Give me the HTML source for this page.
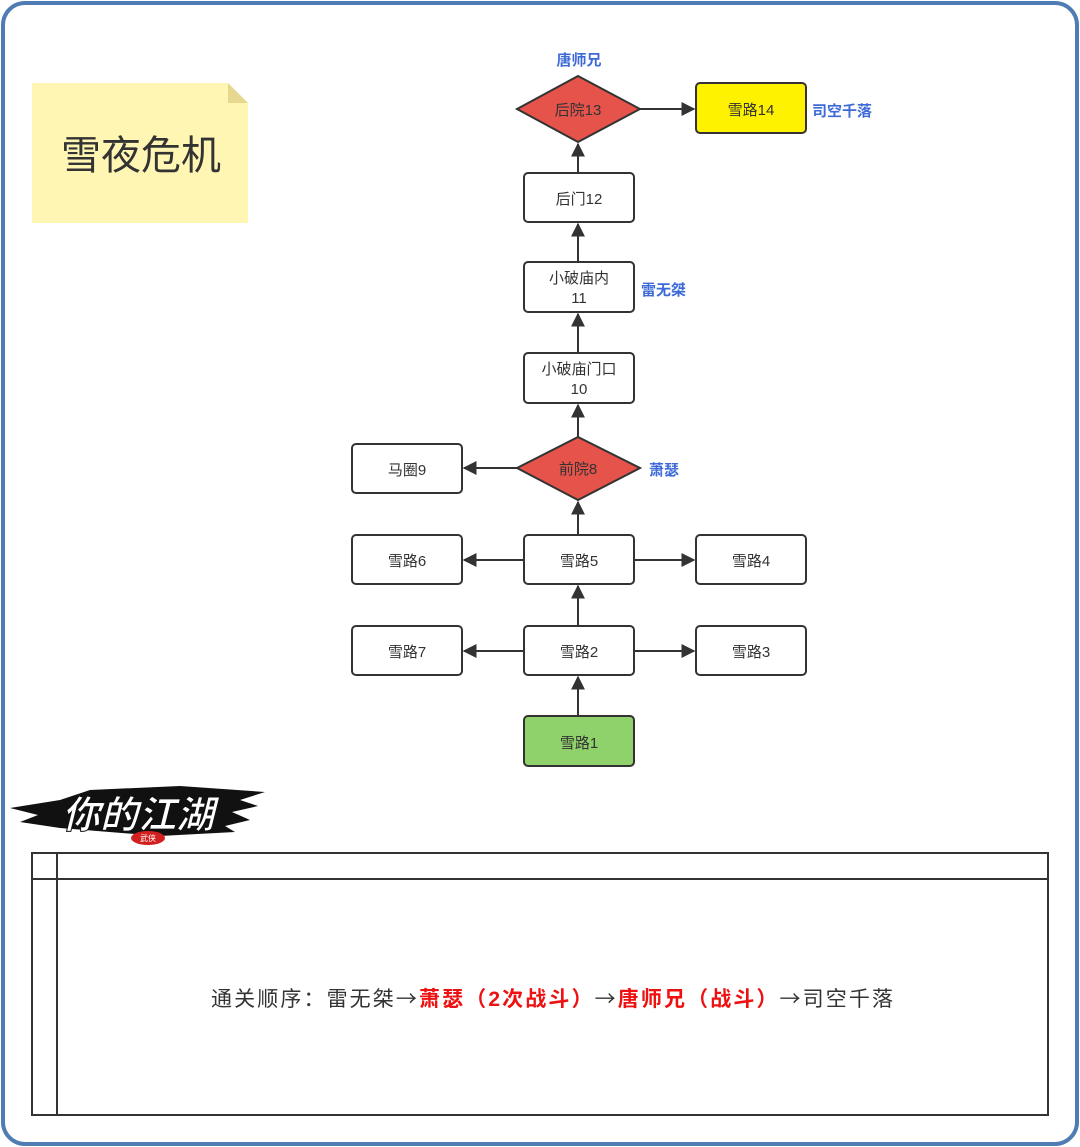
<!DOCTYPE html>
<html><head><meta charset="utf-8"><style>
html,body{margin:0;padding:0;background:#fff;}
svg{display:block;}
text{font-family:"Liberation Sans","Noto Sans CJK SC",sans-serif;}
</style></head><body>
<svg width="1080" height="1147" viewBox="0 0 1080 1147" xmlns="http://www.w3.org/2000/svg">
<defs>
<marker id="b" viewBox="0 0 10 10" markerWidth="14" markerHeight="14" refX="9" refY="5" orient="auto" markerUnits="userSpaceOnUse"><path d="M0,0 L10,5 L0,10 Z" fill="#333"/></marker></defs>
<rect x="3" y="3" width="1074" height="1141" rx="22" fill="#fff" stroke="#4f7db3" stroke-width="4"/>
<path d="M32,83 H228 L248,103 V223 H32 Z" fill="#fff6b3"/>
<path d="M228,83 V103 H248 Z" fill="#e6d98f"/>
<text x="141" y="169" font-size="40" text-anchor="middle" fill="#333">雪夜危机</text>
<g stroke="#333" stroke-width="2" fill="none" marker-end="url(#b)">
<line x1="640" y1="109" x2="694" y2="109"/>
<line x1="578" y1="173" x2="578" y2="144"/>
<line x1="578" y1="262" x2="578" y2="224"/>
<line x1="578" y1="353" x2="578" y2="314"/>
<line x1="578" y1="437" x2="578" y2="405"/>
<line x1="517" y1="468" x2="464" y2="468"/>
<line x1="578" y1="535" x2="578" y2="502"/>
<line x1="524" y1="560" x2="464" y2="560"/>
<line x1="634" y1="560" x2="694" y2="560"/>
<line x1="578" y1="626" x2="578" y2="586"/>
<line x1="524" y1="651" x2="464" y2="651"/>
<line x1="634" y1="651" x2="694" y2="651"/>
<line x1="578" y1="716" x2="578" y2="677"/>
</g>
<g stroke="#333" stroke-width="2">
<path d="M517,109 L578,76 L640,109 L578,142 Z" fill="#e5534b"/>
<rect x="696" y="83" width="110" height="50" rx="4" fill="#fff200"/>
<rect x="524" y="173" width="110" height="49" rx="4" fill="#fff"/>
<rect x="524" y="262" width="110" height="50" rx="4" fill="#fff"/>
<rect x="524" y="353" width="110" height="50" rx="4" fill="#fff"/>
<path d="M517,468 L578,437 L640,468 L578,500 Z" fill="#e5534b"/>
<rect x="352" y="444" width="110" height="49" rx="4" fill="#fff"/>
<rect x="352" y="535" width="110" height="49" rx="4" fill="#fff"/>
<rect x="524" y="535" width="110" height="49" rx="4" fill="#fff"/>
<rect x="696" y="535" width="110" height="49" rx="4" fill="#fff"/>
<rect x="352" y="626" width="110" height="49" rx="4" fill="#fff"/>
<rect x="524" y="626" width="110" height="49" rx="4" fill="#fff"/>
<rect x="696" y="626" width="110" height="49" rx="4" fill="#fff"/>
<rect x="524" y="716" width="110" height="50" rx="4" fill="#8fd16a"/>
</g>
<g font-size="15" fill="#333" text-anchor="middle">
<text x="578" y="115">后院13</text>
<text x="751" y="115">雪路14</text>
<text x="579" y="204">后门12</text>
<text x="579" y="283">小破庙内</text><text x="579" y="303">11</text>
<text x="579" y="374">小破庙门口</text><text x="579" y="394">10</text>
<text x="578" y="474">前院8</text>
<text x="407" y="475">马圈9</text>
<text x="407" y="566">雪路6</text><text x="579" y="566">雪路5</text><text x="751" y="566">雪路4</text>
<text x="407" y="657">雪路7</text><text x="579" y="657">雪路2</text><text x="751" y="657">雪路3</text>
<text x="579" y="748">雪路1</text>
</g>
<g font-size="15" font-weight="bold" fill="#3d6ad8">
<text x="579" y="65" text-anchor="middle">唐师兄</text>
<text x="812" y="116">司空千落</text>
<text x="641" y="295">雷无桀</text>
<text x="649" y="475">萧瑟</text>
</g>
<path d="M10,808 L60,800 L90,790 L180,786 L265,792 L240,800 L258,806 L232,812 L250,820 L225,826 L235,832 L160,836 L60,828 L20,822 L38,815 Z" fill="#111"/>
<text x="138" y="828" font-size="38" font-weight="bold" fill="#fff" stroke="#111" stroke-width="1" text-anchor="middle" font-style="italic">你的江湖</text>
<ellipse cx="148" cy="838" rx="17" ry="7" fill="#d21f1f"/>
<text x="148" y="841" font-size="8" fill="#fff" text-anchor="middle">武侠</text>
<g stroke="#333" stroke-width="2" fill="none">
<rect x="32" y="853" width="1016" height="262"/>
<line x1="57" y1="853" x2="57" y2="1115"/>
<line x1="32" y1="879" x2="1048" y2="879"/>
</g>
<text x="211" y="1006" font-size="21" fill="#333" textLength="682" lengthAdjust="spacing">通关顺序：雷无桀<tspan font-family="Noto Sans CJK SC">→</tspan><tspan fill="#ee1111" font-weight="bold">萧瑟（2次战斗）</tspan><tspan font-family="Noto Sans CJK SC">→</tspan><tspan fill="#ee1111" font-weight="bold">唐师兄（战斗）</tspan><tspan font-family="Noto Sans CJK SC">→</tspan>司空千落</text>
</svg>
</body></html>
